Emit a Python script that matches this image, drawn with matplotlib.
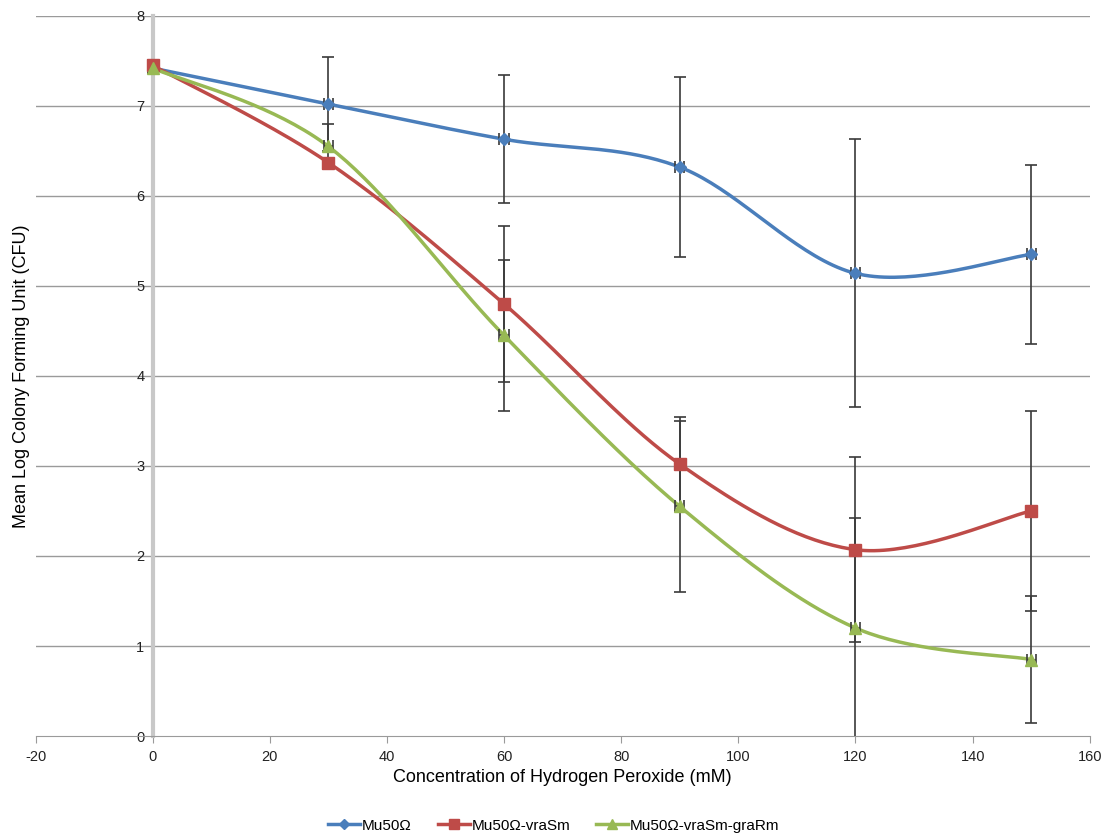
import numpy as np
import matplotlib
matplotlib.use('Agg')
import matplotlib.pyplot as plt

plt.rcParams['font.family'] = ['Liberation Sans', 'DejaVu Sans']
plt.rcParams['axes.unicode_minus'] = False

# Data
conc = [0, 30, 60, 90, 120, 150]
labels = ['Mu50Ω', 'Mu50Ω-vraSm', 'Mu50Ω-vraSm-graRm']
mu50 = [7.42, 7.02, 6.63, 6.32, 5.14, 5.35]
mu50_sd = [0.0, 0.52, 0.71, 1.00, 1.49, 0.99]
vras = [7.45, 6.37, 4.80, 3.02, 2.07, 2.50]
vras_sd = [0.0, 0.05, 0.87, 0.52, 1.03, 1.11]
gras = [7.42, 6.55, 4.45, 2.55, 1.20, 0.85]
gras_sd = [0.0, 0.25, 0.84, 0.95, 1.22, 0.71]
x_err = [0.8, 0.8, 0.8, 0.8, 0.8, 0.8]

colors = ['#4a7ebb', '#be4b48', '#98b954']
markers = ['D', 's', '^']
msizes = [6, 8, 8]


# Excel-style smoothed line (Catmull-Rom as cubic Bezier)
def smooth(xs, ys, n=40):
    pts = np.column_stack([xs, ys]).astype(float)
    p = np.vstack([pts[0], pts, pts[-1]])
    t = np.linspace(0, 1, n)[:, None]
    out = []
    for i in range(1, len(p) - 2):
        p0, p1, p2, p3 = p[i - 1], p[i], p[i + 1], p[i + 2]
        c1 = p1 + (p2 - p0) / 6
        c2 = p2 - (p3 - p1) / 6
        b = (1 - t) ** 3 * p1 + 3 * (1 - t) ** 2 * t * c1 + 3 * (1 - t) * t ** 2 * c2 + t ** 3 * p2
        out.append(b)
    return np.vstack(out)


fig = plt.figure(figsize=(11.12, 8.38), dpi=100)
ax = fig.add_axes([0.032, 0.1217, 0.948, 0.8593])

ax.set_xlim(-20, 160)
ax.set_ylim(0, 8)
ax.set_xticks(range(-20, 161, 20))
ax.set_yticks(range(0, 9))

for yv in range(1, 9):
    ax.axhline(yv, color='#9a9a9a', lw=1, zorder=0)

ax.spines['top'].set_visible(False)
ax.spines['right'].set_visible(False)
ax.spines['left'].set_position(('data', 0))
ax.spines['left'].set_color('#c8c8c8')
ax.spines['left'].set_linewidth(3)
ax.spines['bottom'].set_color('#9a9a9a')
ax.tick_params(axis='y', length=0, labelsize=10.5, colors='#222222', pad=6)
ax.tick_params(axis='x', length=5, color='#9a9a9a', labelsize=10.5, colors='#222222', pad=5)

series = [(mu50, mu50_sd), (vras, vras_sd), (gras, gras_sd)]
handles = []
for (ys, sd), c, m, ms, lab in zip(series, colors, markers, msizes, labels):
    curve = smooth(conc, ys)
    ax.plot(curve[:, 0], curve[:, 1], color=c, lw=2.5, zorder=3)
    ax.errorbar(conc, ys, yerr=sd, xerr=x_err, fmt='none', ecolor='#3a3a3a',
                elinewidth=1.2, capsize=4, capthick=1.2, zorder=4)
    ax.plot(conc, ys, ls='none', marker=m, color=c, ms=ms, zorder=5, clip_on=False)
    h, = ax.plot([], [], color=c, lw=2.5, marker=m, ms=ms - 1, label=lab)
    handles.append(h)

ax.set_xlabel('Concentration of Hydrogen Peroxide (mM)', fontsize=13, labelpad=4)
ax.set_ylabel('Mean Log Colony Forming Unit (CFU)', fontsize=13)
ax.yaxis.set_label_coords(-0.005, 0.5)

fig.legend(handles=handles, loc='lower center', bbox_to_anchor=(0.498, -0.01), ncol=3,
           frameon=False, fontsize=11, handlelength=2.1, columnspacing=1.7, handletextpad=0.1)

fig.savefig('out.png', dpi=100)
